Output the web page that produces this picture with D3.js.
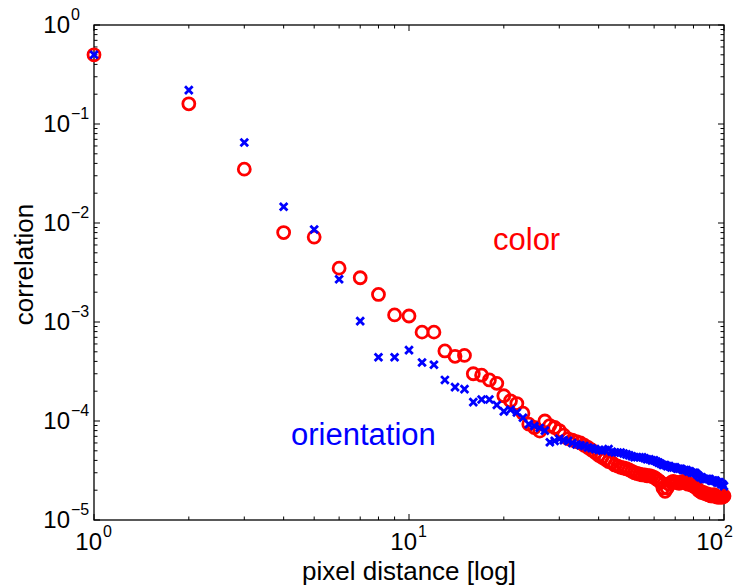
<!DOCTYPE html>
<html>
<head>
<meta charset="utf-8">
<script src="https://cdn.jsdelivr.net/npm/d3@7"></script>
<style>
  body { margin: 0; background: #fff; }
  text { font-family: "Liberation Sans", Arial, sans-serif; fill: #000; }
</style>
</head>
<body>
<div id="chart"></div>
<script>
// pixel distances 1..100
const distances = d3.range(1, 101);

// correlation of color (red circles)
const colorCorr = [
  0.50, 0.16, 0.035, 0.0080, 0.0072, 0.0035, 0.0028, 0.0019, 0.00118, 0.00115,
  0.00079, 0.00079, 0.00051, 0.00045, 0.00046, 0.00030, 0.00029, 0.00026, 0.00024, 0.00018,
  0.00016, 0.00015, 0.00012, 9.3e-5, 8.6e-5, 7.9e-5, 1.0e-4, 9.0e-5, 8.6e-5, 8.0e-5,
  7.2e-5, 6.6e-5, 6.4e-5, 6.2e-5, 6.0e-5, 5.7e-5, 5.4e-5, 5.1e-5, 4.8e-5, 4.5e-5,
  4.3e-5, 4.1e-5, 3.9e-5, 3.8e-5, 3.6e-5, 3.5e-5, 3.4e-5, 3.35e-5, 3.3e-5, 3.2e-5,
  3.1e-5, 3.0e-5, 2.95e-5, 2.9e-5, 2.85e-5, 2.85e-5, 2.8e-5, 2.8e-5, 2.75e-5, 2.7e-5,
  2.6e-5, 2.5e-5, 2.4e-5, 2.1e-5, 1.95e-5, 2.1e-5, 2.3e-5, 2.4e-5, 2.45e-5, 2.4e-5,
  2.4e-5, 2.35e-5, 2.4e-5, 2.45e-5, 2.4e-5, 2.35e-5, 2.3e-5, 2.3e-5, 2.25e-5, 2.2e-5,
  2.15e-5, 2.1e-5, 2.0e-5, 1.95e-5, 1.9e-5, 1.9e-5, 1.85e-5, 1.85e-5, 1.8e-5, 1.8e-5,
  1.75e-5, 1.75e-5, 1.8e-5, 1.75e-5, 1.7e-5, 1.7e-5, 1.7e-5, 1.7e-5, 1.7e-5, 1.75e-5
];

// correlation of orientation (blue crosses)
const orientCorr = [
  0.50, 0.22, 0.065, 0.0146, 0.0086, 0.0027, 0.00102, 0.00044, 0.00044, 0.00052,
  0.00039, 0.00037, 0.00026, 0.00022, 0.00021, 0.000155, 0.000165, 0.000165, 0.000145, 0.000125,
  0.00013, 0.000122, 0.000108, 9.3e-5, 8.9e-5, 8.5e-5, 8.0e-5, 6.1e-5, 6.3e-5, 6.6e-5,
  6.4e-5, 6.3e-5, 6.0e-5, 5.8e-5, 5.7e-5, 5.6e-5, 5.4e-5, 5.3e-5, 5.2e-5, 5.1e-5,
  5.0e-5, 5.1e-5, 5.2e-5, 4.9e-5, 4.8e-5, 4.8e-5, 4.8e-5, 4.7e-5, 4.6e-5, 4.5e-5,
  4.4e-5, 4.3e-5, 4.3e-5, 4.3e-5, 4.3e-5, 4.2e-5, 4.1e-5, 4.1e-5, 4.0e-5, 4.0e-5,
  3.9e-5, 3.8e-5, 3.7e-5, 3.6e-5, 3.6e-5, 3.5e-5, 3.5e-5, 3.4e-5, 3.4e-5, 3.4e-5,
  3.3e-5, 3.3e-5, 3.3e-5, 3.2e-5, 3.2e-5, 3.2e-5, 3.1e-5, 3.1e-5, 3.0e-5, 3.0e-5,
  3.0e-5, 2.9e-5, 2.8e-5, 2.7e-5, 2.7e-5, 2.6e-5, 2.6e-5, 2.6e-5, 2.6e-5, 2.6e-5,
  2.5e-5, 2.5e-5, 2.5e-5, 2.5e-5, 2.4e-5, 2.4e-5, 2.4e-5, 2.3e-5, 2.3e-5, 2.2e-5
];

const xDecades = [0, 1, 2];
const yDecades = [0, -1, -2, -3, -4, -5];

const width = 734, height = 587;
const margin = { top: 25, right: 10, bottom: 67, left: 94 };

const svg = d3.select('#chart').append('svg')
  .attr('width', width)
  .attr('height', height);

const x = d3.scaleLog().domain([1, 100]).range([margin.left, width - margin.right]);
const y = d3.scaleLog().domain([1e-5, 1]).range([height - margin.bottom, margin.top]);

const x0 = x.range()[0], x1 = x.range()[1];
const y0 = y.range()[0], y1 = y.range()[1];

// minor ticks (2..9 of each decade)
const minorX = [];
[1, 10].forEach(d => d3.range(2, 10).forEach(k => minorX.push(d * k)));
const minorY = [];
[1e-5, 1e-4, 1e-3, 1e-2, 1e-1].forEach(d => d3.range(2, 10).forEach(k => minorY.push(d * k)));

const ticks = svg.append('g').attr('stroke', '#000').attr('stroke-width', 1);
const majLen = 6, minLen = 3.5;

minorX.forEach(v => {
  ticks.append('line').attr('x1', x(v)).attr('x2', x(v)).attr('y1', y0).attr('y2', y0 - minLen);
  ticks.append('line').attr('x1', x(v)).attr('x2', x(v)).attr('y1', y1).attr('y2', y1 + minLen);
});
xDecades.forEach(e => {
  const v = Math.pow(10, e);
  ticks.append('line').attr('x1', x(v)).attr('x2', x(v)).attr('y1', y0).attr('y2', y0 - majLen);
  ticks.append('line').attr('x1', x(v)).attr('x2', x(v)).attr('y1', y1).attr('y2', y1 + majLen);
});
minorY.forEach(v => {
  ticks.append('line').attr('x1', x0).attr('x2', x0 + minLen).attr('y1', y(v)).attr('y2', y(v));
  ticks.append('line').attr('x1', x1).attr('x2', x1 - minLen).attr('y1', y(v)).attr('y2', y(v));
});
yDecades.forEach(e => {
  const v = Math.pow(10, e);
  ticks.append('line').attr('x1', x0).attr('x2', x0 + majLen).attr('y1', y(v)).attr('y2', y(v));
  ticks.append('line').attr('x1', x1).attr('x2', x1 - majLen).attr('y1', y(v)).attr('y2', y(v));
});

// box
svg.append('rect')
  .attr('x', x0).attr('y', y1)
  .attr('width', x1 - x0).attr('height', y0 - y1)
  .attr('fill', 'none').attr('stroke', '#000').attr('stroke-width', 1.3);

// tick labels
const fsBase = 24, fsExp = 16;
xDecades.forEach(e => {
  const px = x(Math.pow(10, e));
  // last label is pulled in so it stays inside the figure
  const end = e === 2 ? px - 1 : px + 8;
  svg.append('text').attr('x', end).attr('y', y0 + 30)
    .attr('text-anchor', 'end').style('font-size', fsBase + 'px').text('10');
  svg.append('text').attr('x', end + 1).attr('y', y0 + 17)
    .attr('text-anchor', 'start').style('font-size', fsExp + 'px').text(String(e));
});
yDecades.forEach(e => {
  const py = y(Math.pow(10, e));
  svg.append('text').attr('x', 70).attr('y', py + 8)
    .attr('text-anchor', 'end').style('font-size', fsBase + 'px').text('10');
  svg.append('text').attr('x', 71).attr('y', py - 5)
    .attr('text-anchor', 'start').style('font-size', fsExp + 'px').text(e === 0 ? '0' : '\u2212' + Math.abs(e));
});

// axis labels
svg.append('text')
  .attr('x', (x0 + x1) / 2).attr('y', 580)
  .attr('text-anchor', 'middle').style('font-size', '26px')
  .text('pixel distance [log]');

svg.append('text')
  .attr('transform', `translate(33, ${(y0 + y1) / 2 - 8}) rotate(-90)`)
  .attr('text-anchor', 'middle').style('font-size', '26px')
  .text('correlation');

// color series: red circles
svg.append('g').selectAll('circle')
  .data(distances)
  .enter().append('circle')
  .attr('cx', d => x(d))
  .attr('cy', (d, i) => y(colorCorr[i]))
  .attr('r', 6)
  .attr('fill', 'none')
  .attr('stroke', '#ff0000')
  .attr('stroke-width', 2.8);

// orientation series: blue crosses
const s = 3.8;
svg.append('g').selectAll('path')
  .data(distances)
  .enter().append('path')
  .attr('transform', (d, i) => `translate(${x(d)},${y(orientCorr[i])})`)
  .attr('d', `M${-s},${-s}L${s},${s}M${-s},${s}L${s},${-s}`)
  .attr('stroke', '#0000ff')
  .attr('stroke-width', 2.8)
  .attr('fill', 'none');

// series annotations
svg.append('text').attr('x', 493).attr('y', 250)
  .style('font-size', '31px').style('fill', '#ff0000').text('color');
svg.append('text').attr('x', 291).attr('y', 445)
  .style('font-size', '31px').style('fill', '#0000ff').text('orientation');
</script>
</body>
</html>
